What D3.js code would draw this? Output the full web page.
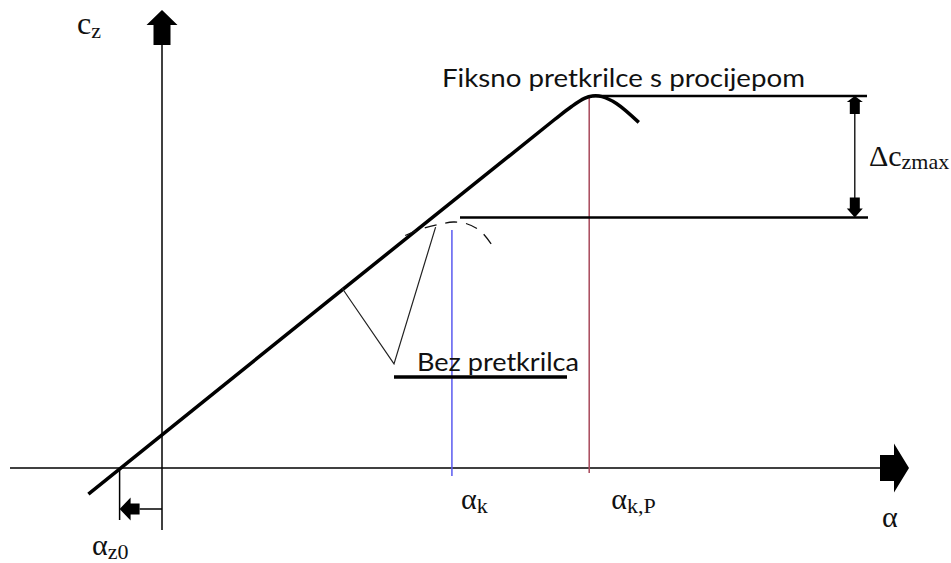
<!DOCTYPE html>
<html>
<head>
<meta charset="utf-8">
<script src="https://cdn.jsdelivr.net/npm/d3@7"></script>
<style>
  body { margin: 0; background: #fff; }
  svg { display: block; }
  .serif { font-family: "Liberation Serif", "DejaVu Serif", serif; fill: #111; }
  .sans { font-family: Lato, "Open Sans", sans-serif; fill: #111; }
</style>
</head>
<body>
<div id="chart"></div>
<script>
// values are (alpha, cz) in arbitrary schematic units
const liftWithSlat = [[-4.6, -0.087], [24.5, 1.16], [25.6, 1.205], [26.4, 1.232], [26.9, 1.24], [27.5, 1.238], [28.4, 1.215], [29.8, 1.152]];
const liftNoSlat = [[15.2, 0.775], [16.4, 0.8], [17.4, 0.813], [18.2, 0.82], [19.0, 0.815], [19.9, 0.79], [20.6, 0.745]];
const guideV = [[11.25, 0.6], [14.5, 0.347], [17.1, 0.803]];
const alphaZ0 = -2.65;
const alphaK = 18.12;
const alphaKP = 26.7;
const czMaxSlat = 1.24;
const czMaxNoSlat = 0.835;
const czmaxArrowAlpha = 43.3;
const labels = ["Fiksno pretkrilce s procijepom", "Bez pretkrilca"];

const width = 951, height = 563;

const x = d3.scaleLinear().domain([0, 1]).range([162, 178]);   // 16 px per unit
const y = d3.scaleLinear().domain([0, 1]).range([468, 168]);   // 300 px per unit

const svg = d3.select('#chart').append('svg')
  .attr('width', width)
  .attr('height', height);

const line = d3.line().x(d => x(d[0])).y(d => y(d[1]));

// block arrow: tip point, direction, head length/half width, body length/half width
function blockArrow(tx, ty, dx, dy, hl, hw, bl, bw) {
  const px = -dy, py = dx;
  const p = (a, b) => [tx - dx * a + px * b, ty - dy * a + py * b];
  const pts = [p(0, 0), p(hl, hw), p(hl, bw), p(hl + bl, bw), p(hl + bl, -bw), p(hl, -bw), p(hl, -hw)];
  svg.append('path')
    .attr('d', 'M' + pts.map(q => q.join(',')).join('L') + 'Z')
    .attr('fill', '#000');
}

// axes
svg.append('line')
  .attr('x1', 10).attr('x2', 880)
  .attr('y1', y(0)).attr('y2', y(0))
  .attr('stroke', '#000').attr('stroke-width', 1.5);
blockArrow(909, y(0), 1, 0, 15, 24.5, 14, 13);

svg.append('line')
  .attr('x1', x(0)).attr('x2', x(0))
  .attr('y1', 530).attr('y2', 45)
  .attr('stroke', '#000').attr('stroke-width', 1.5);
blockArrow(x(0), 10, 0, -1, 15, 15.5, 20, 8.5);

// alpha_z0 marker
svg.append('line')
  .attr('x1', x(alphaZ0)).attr('x2', x(alphaZ0))
  .attr('y1', y(0)).attr('y2', 520)
  .attr('stroke', '#000').attr('stroke-width', 1.5);
svg.append('line')
  .attr('x1', x(0)).attr('x2', x(alphaZ0) + 20)
  .attr('y1', 509).attr('y2', 509)
  .attr('stroke', '#000').attr('stroke-width', 1.5);
blockArrow(x(alphaZ0), 509, -1, 0, 11, 11.5, 9, 5.5);

// critical angle lines
svg.append('line')
  .attr('x1', x(alphaK)).attr('x2', x(alphaK))
  .attr('y1', y(0.793)).attr('y2', y(-0.027))
  .attr('stroke', '#5a5af0').attr('stroke-width', 1.5);
svg.append('line')
  .attr('x1', x(alphaKP)).attr('x2', x(alphaKP))
  .attr('y1', y(czMaxSlat)).attr('y2', y(-0.017))
  .attr('stroke', '#a8485a').attr('stroke-width', 1.5);

// cz max levels
svg.append('line')
  .attr('x1', x(26.9)).attr('x2', 867)
  .attr('y1', y(czMaxSlat)).attr('y2', y(czMaxSlat))
  .attr('stroke', '#000').attr('stroke-width', 2.5);
svg.append('line')
  .attr('x1', 460).attr('x2', 868)
  .attr('y1', y(czMaxNoSlat)).attr('y2', y(czMaxNoSlat))
  .attr('stroke', '#000').attr('stroke-width', 2.5);

// delta cz max dimension
const ax = x(czmaxArrowAlpha);
svg.append('line')
  .attr('x1', ax).attr('x2', ax)
  .attr('y1', y(czMaxSlat) + 15).attr('y2', y(czMaxNoSlat) - 15)
  .attr('stroke', '#000').attr('stroke-width', 1.3);
blockArrow(ax, y(czMaxSlat), 0, -1, 6, 8, 12, 5);
blockArrow(ax, y(czMaxNoSlat), 0, 1, 9, 8, 11, 5);

// curves
svg.append('path')
  .datum(liftWithSlat)
  .attr('d', line.curve(d3.curveCatmullRom)(liftWithSlat))
  .attr('fill', 'none')
  .attr('stroke', '#000').attr('stroke-width', 3.5);

svg.append('path')
  .attr('d', d3.line().x(d => x(d[0])).y(d => y(d[1])).curve(d3.curveCatmullRom)(liftNoSlat))
  .attr('fill', 'none')
  .attr('stroke', '#111').attr('stroke-width', 1.3)
  .attr('stroke-dasharray', '12,9');

svg.append('path')
  .attr('d', d3.line().x(d => x(d[0])).y(d => y(d[1]))(guideV))
  .attr('fill', 'none')
  .attr('stroke', '#222').attr('stroke-width', 1.2);

// underline under label
svg.append('line')
  .attr('x1', 394).attr('x2', 567)
  .attr('y1', 377).attr('y2', 377)
  .attr('stroke', '#000').attr('stroke-width', 3.5);

// text labels
svg.append('text').attr('class', 'sans')
  .attr('x', 442).attr('y', 87)
  .attr('font-size', 25)
  .attr('textLength', 363).attr('lengthAdjust', 'spacingAndGlyphs')
  .text(labels[0]);
svg.append('text').attr('class', 'sans')
  .attr('x', 417).attr('y', 371)
  .attr('font-size', 25)
  .attr('textLength', 162).attr('lengthAdjust', 'spacingAndGlyphs')
  .text(labels[1]);

function subLabel(tx, ty, main, sub, size, subSize, dy) {
  const t = svg.append('text').attr('class', 'serif')
    .attr('x', tx).attr('y', ty).attr('font-size', size);
  t.append('tspan').text(main);
  t.append('tspan').attr('font-size', subSize).attr('dy', dy).text(sub);
}

subLabel(77, 34, 'c', 'z', 32, 22, 4);
subLabel(869, 166, 'Δc', 'zmax', 30, 22, 3);
subLabel(x(alphaK) + 9, 509, 'α', 'k', 30, 22, 4);
subLabel(x(alphaKP) + 22, 509, 'α', 'k,P', 30, 22, 4);
subLabel(92, 555, 'α', 'z0', 30, 22, 4);
svg.append('text').attr('class', 'serif')
  .attr('x', 882).attr('y', 527).attr('font-size', 30).text('α');
</script>
</body>
</html>
